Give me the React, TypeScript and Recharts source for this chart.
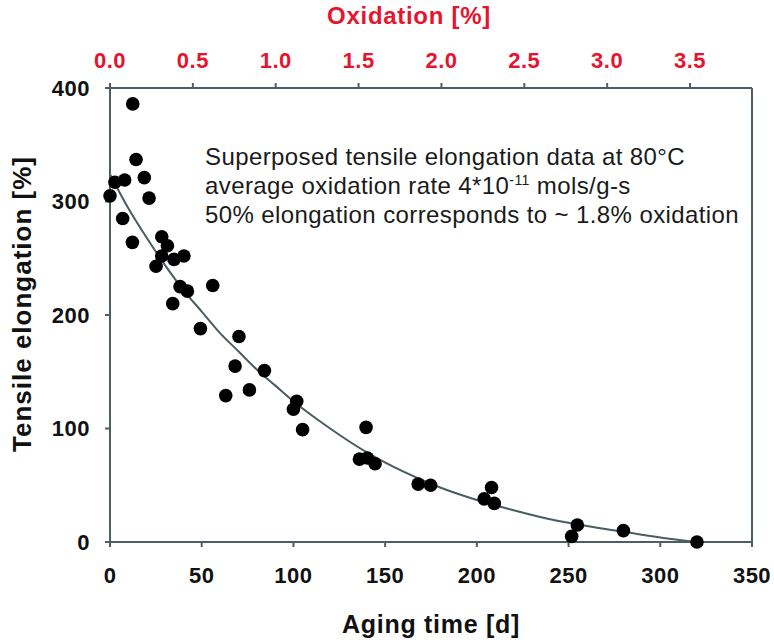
import { ComposedChart, Scatter, Line, XAxis, YAxis } from 'recharts'

// measured points (aging time in days, tensile elongation in %)
const agingTime = [
  0, 2.7, 8, 6.9, 12.4, 14.2, 18.7, 21.3, 12.2, 28.2, 31.3, 28.2, 25.1, 34.9, 40.3, 38.2, 42.2, 56, 34.2, 49.3,
  70.3, 68.2, 84.2, 63.1, 76, 101.8, 100, 105, 139.6, 136, 140.3, 144.5, 168, 174.8, 208, 204, 209.5, 254.8,
  251.7, 279.9, 320,
]
const elongation = [
  305, 317, 319, 285, 386, 337, 321, 303, 264, 269, 261, 252, 243, 249, 252, 225, 221, 226, 210, 188,
  181, 155, 151, 129, 134, 124, 117, 99, 101, 73, 74, 69, 51, 50, 48, 38, 34, 15,
  5, 10, 0,
]

// fitted curve
const fitTime = [0, 10, 20, 30, 40, 50, 60, 70, 80, 90, 100, 120, 140, 160, 180, 200, 220, 240, 260, 280, 300, 320]
const fitElongation = [324, 294, 268, 244, 222, 203, 184, 168, 152, 138, 124, 100, 79, 62, 48, 37, 28, 20, 14, 9, 4, 0]

const timeTicks = [0, 50, 100, 150, 200, 250, 300, 350]
const elongationTicks = [0, 100, 200, 300, 400]
const oxidationTicks = [0, 0.5, 1, 1.5, 2, 2.5, 3, 3.5]

const points = agingTime.map((x, i) => ({ x, y: elongation[i] }))
const curve = fitTime.map((x, i) => ({ x, y: fitElongation[i] }))
// anchors the top (oxidation) axis, nothing is drawn for it
const oxidationAnchor = oxidationTicks.map((o) => ({ o, y: 0 }))

const axisColor = '#4d5f63'
const red = '#e5142f'
const font = '"Liberation Sans", Arial, sans-serif'

const tickStyle = { fontSize: 22, fontWeight: 700, fill: '#111', fontFamily: font, letterSpacing: 0.5 }

export default function App() {
  return (
    <div style={{ position: 'absolute', left: 0, top: 0, width: 774, height: 643, background: '#fff' }}>
      <ComposedChart width={774} height={643} margin={{ top: 0, right: 0, bottom: 0, left: 0 }}>
        <XAxis
          xAxisId="bottom"
          dataKey="x"
          type="number"
          domain={[0, 350]}
          ticks={timeTicks}
          height={101}
          tickSize={5}
          tickMargin={20}
          stroke={axisColor}
          strokeWidth={2}
          tick={tickStyle}
          label={{
            value: 'Aging time [d]',
            position: 'insideBottom',
            offset: 10,
            style: { fontSize: 25, fontWeight: 700, fill: '#111', fontFamily: font, letterSpacing: 0.7 },
          }}
        />
        <XAxis
          xAxisId="top"
          dataKey="o"
          orientation="top"
          type="number"
          domain={[0, 3.874]}
          allowDataOverflow
          ticks={oxidationTicks}
          tickFormatter={(v: number) => v.toFixed(1)}
          height={88}
          tickSize={5}
          tickMargin={15}
          stroke={axisColor}
          strokeWidth={2}
          tick={{ ...tickStyle, fill: red }}
          label={{
            value: 'Oxidation [%]',
            content: ({ viewBox }: any) => (
              <text
                x={viewBox.x + viewBox.width / 2 - 22}
                y={24}
                textAnchor="middle"
                fill={red}
                style={{ fontSize: 24, fontWeight: 700, fontFamily: font, letterSpacing: 0.7 }}
              >
                Oxidation [%]
              </text>
            ),
          }}
        />
        <YAxis
          yAxisId="left"
          type="number"
          domain={[0, 400]}
          ticks={elongationTicks}
          width={110}
          tickSize={5}
          tickMargin={15}
          stroke={axisColor}
          strokeWidth={2}
          tick={tickStyle}
          label={{
            value: 'Tensile elongation [%]',
            content: () => (
              <text
                x={0}
                y={0}
                transform="translate(31, 304) rotate(-90)"
                textAnchor="middle"
                fill="#111"
                style={{ fontSize: 26, fontWeight: 700, fontFamily: font, letterSpacing: 1 }}
              >
                Tensile elongation [%]
              </text>
            ),
          }}
        />
        <YAxis
          yAxisId="right"
          orientation="right"
          type="number"
          domain={[0, 400]}
          width={22}
          tick={false}
          tickLine={false}
          stroke={axisColor}
          strokeWidth={2}
        />
        <Scatter
          xAxisId="top"
          yAxisId="left"
          data={oxidationAnchor}
          dataKey="y"
          shape={() => <g />}
          isAnimationActive={false}
        />
        <Line
          xAxisId="bottom"
          yAxisId="left"
          data={curve}
          dataKey="y"
          type="monotone"
          stroke="#4a5d61"
          strokeWidth={2}
          dot={false}
          isAnimationActive={false}
        />
        <Scatter
          xAxisId="bottom"
          yAxisId="left"
          data={points}
          dataKey="y"
          fill="#000"
          shape={(p: any) => <circle cx={p.cx} cy={p.cy} r={6.8} fill="#000" />}
          isAnimationActive={false}
        />
      </ComposedChart>
      <div
        style={{
          position: 'absolute',
          left: 205,
          top: 142,
          fontFamily: font,
          fontSize: 24,
          lineHeight: '29px',
          letterSpacing: 0.4,
          color: '#1a1a1a',
          whiteSpace: 'nowrap',
        }}
      >
        <div>Superposed tensile elongation data at 80°C</div>
        <div>
          average oxidation rate 4*10<sup style={{ fontSize: 14, lineHeight: 0, verticalAlign: 9 }}>-11</sup> mols/g-s
        </div>
        <div>50% elongation corresponds to ~ 1.8% oxidation</div>
      </div>
    </div>
  )
}
